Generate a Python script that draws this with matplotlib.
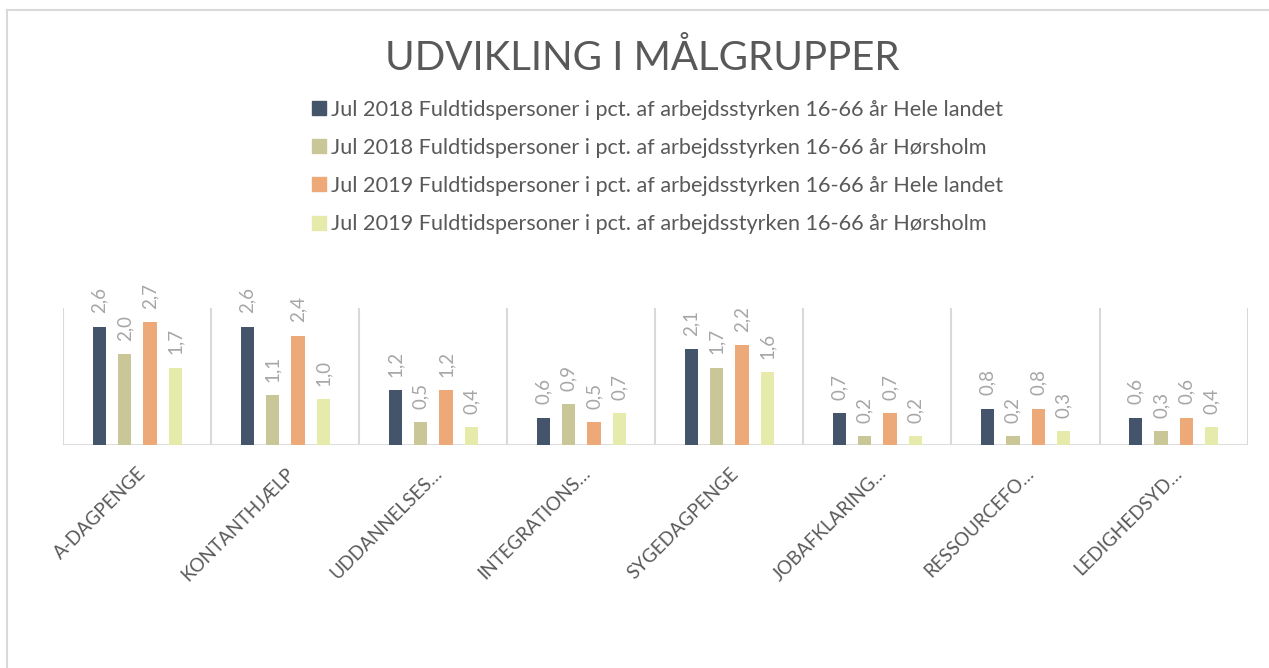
import matplotlib
matplotlib.use("Agg")
import matplotlib.pyplot as plt
from matplotlib.lines import Line2D
import numpy as np

categories = ["A-DAGPENGE", "KONTANTHJÆLP", "UDDANNELSES…", "INTEGRATIONS…",
              "SYGEDAGPENGE", "JOBAFKLARING…", "RESSOURCEFO…", "LEDIGHEDSYD…"]
series_names = [
    "Jul 2018 Fuldtidspersoner i pct. af arbejdsstyrken 16-66 år Hele landet",
    "Jul 2018 Fuldtidspersoner i pct. af arbejdsstyrken 16-66 år Hørsholm",
    "Jul 2019 Fuldtidspersoner i pct. af arbejdsstyrken 16-66 år Hele landet",
    "Jul 2019 Fuldtidspersoner i pct. af arbejdsstyrken 16-66 år Hørsholm",
]
jul2018_hele = [2.6, 2.6, 1.2, 0.6, 2.1, 0.7, 0.8, 0.6]
jul2018_hoersholm = [2.0, 1.1, 0.5, 0.9, 1.7, 0.2, 0.2, 0.3]
jul2019_hele = [2.7, 2.4, 1.2, 0.5, 2.2, 0.7, 0.8, 0.6]
jul2019_hoersholm = [1.7, 1.0, 0.4, 0.7, 1.6, 0.2, 0.3, 0.4]
series = [jul2018_hele, jul2018_hoersholm, jul2019_hele, jul2019_hoersholm]
colors = ["#44546A", "#C9C797", "#EDA977", "#E6EBAB"]

FONT = ["Lato", "DejaVu Sans"]
plt.rcParams["font.family"] = FONT
TXT = "#595959"
GRID = "#D9D9D9"

fig = plt.figure(figsize=(12.69, 6.68), dpi=100)
ax = fig.add_axes([0.0499, 0.3338, 0.9332, 0.2047])

x = np.arange(len(categories))
step = 0.171
width = 0.09
for i, (vals, c) in enumerate(zip(series, colors)):
    pos = x + (i - 1.5) * step
    ax.bar(pos, vals, width=width, color=c, zorder=3)
    for p, v in zip(pos, vals):
        ax.annotate(f"{v:.1f}".replace(".", ","), (p, v), xytext=(0, 9.5),
                    textcoords="offset points", rotation=90, ha="center",
                    va="bottom", fontsize=13.5, color="#A6A6A6")

ax.set_xlim(-0.5, len(categories) - 0.5)
ax.set_ylim(0, 3)
for b in np.arange(-0.5, len(categories), 1.0):
    ax.axvline(b, color=GRID, lw=1.5, zorder=1)
ax.axhline(0, color=GRID, lw=2, zorder=2)
for s in ax.spines.values():
    s.set_visible(False)
ax.set_yticks([])
ax.set_xticks(x)
ax.set_xticklabels(categories, rotation=45, ha="right", rotation_mode="anchor",
                   fontsize=13.5, color=TXT)
ax.tick_params(axis="x", length=0, pad=14)

fig.text(0.506, 0.913, "UDVIKLING I MÅLGRUPPER", ha="center", va="center",
         fontsize=29, color=TXT)

leg_handles = [Line2D([0], [0], marker="s", linestyle="none", markersize=10,
                      markerfacecolor=c, markeredgecolor=c) for c in colors]
leg = fig.legend(leg_handles, series_names, loc="upper left",
                 bbox_to_anchor=(0.245, 0.851), frameon=False, fontsize=15.6,
                 handlelength=0.75, handletextpad=0.2, labelspacing=0.84,
                 borderaxespad=0, borderpad=0)
for t in leg.get_texts():
    t.set_color(TXT)

# chart-area frame (left and top edges visible)
fig.add_artist(Line2D([7 / 1269, 7 / 1269], [0, 1 - 10 / 668], color=GRID, lw=1.5))
fig.add_artist(Line2D([7 / 1269, 1], [1 - 10 / 668, 1 - 10 / 668], color=GRID, lw=1.5))

fig.savefig("out.png", dpi=100, facecolor="white")
